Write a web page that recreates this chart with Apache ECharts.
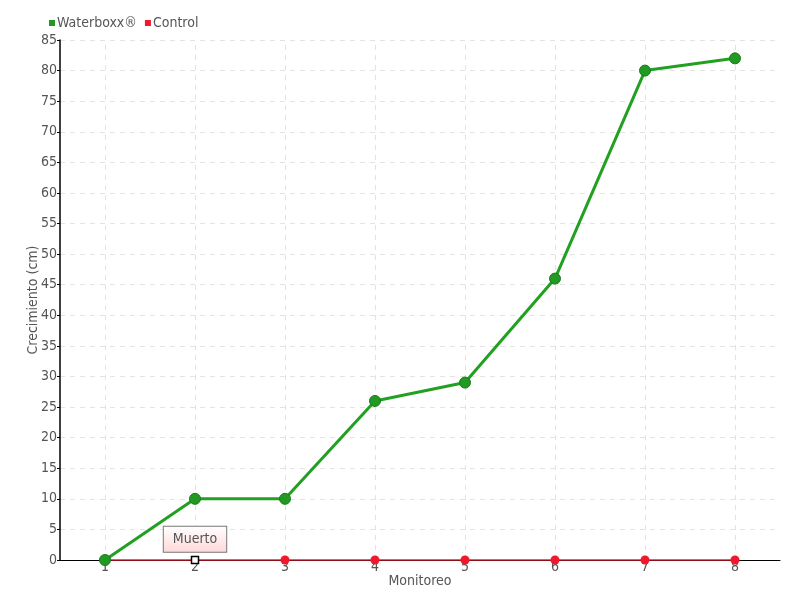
<!DOCTYPE html>
<html><head><meta charset="utf-8">
<script src="https://cdn.jsdelivr.net/npm/echarts@6/dist/echarts.min.js"></script>
<style>html,body{margin:0;padding:0;background:#fff}#c{width:800px;height:600px}</style>
</head><body><div id="c"></div>
<script>
var categories = ['1','2','3','4','5','6','7','8'];
var waterboxx = [0, 10, 10, 26, 29, 46, 80, 82];
var control = [0, 0, 0, 0, 0, 0, 0, 0];
var deadIndex = 1;
var deadLabel = 'Muerto';

var FONT = 'DejaVu Sans Condensed';
var chart = echarts.init(document.getElementById('c'));
var controlData = control.map(function (v, i) {
  if (i === deadIndex) {
    return {
      value: v,
      symbol: 'rect', symbolSize: 7,
      itemStyle: { color: '#fff', borderColor: '#000', borderWidth: 1.5 },
      label: {
        show: true, position: 'top', distance: 4, formatter: deadLabel,
        fontFamily: FONT, fontSize: 14, color: '#555',
        padding: [6, 9, 5, 9], borderColor: '#777', borderWidth: 1,
        backgroundColor: new echarts.graphic.LinearGradient(0, 0, 0, 1, [
          { offset: 0, color: '#ffffff' }, { offset: 1, color: '#ffd8d8' }])
      }
    };
  }
  return v;
});
var vLines = categories.map(function (c) { return { xAxis: c }; });
chart.setOption({
  animation: false,
  textStyle: { fontFamily: FONT },
  legend: {
    left: 44, top: 11, itemWidth: 6, itemHeight: 6, itemGap: 8,
    icon: 'rect', itemStyle: { borderWidth: 0 },
    textStyle: { fontFamily: FONT, fontSize: 14, color: '#555', padding: [0, 0, 0, -3] },
    data: ['Waterboxx®', 'Control']
  },
  grid: { left: 60, right: 20, top: 40, bottom: 40 },
  xAxis: {
    type: 'category', data: categories, boundaryGap: true,
    name: 'Monitoreo', nameLocation: 'middle', nameGap: 14, nameMoveOverlap: false,
    nameTextStyle: { fontFamily: FONT, fontSize: 14, color: '#555' },
    axisLine: { lineStyle: { color: '#000', width: 1 } },
    axisTick: { alignWithLabel: true, length: 5, lineStyle: { color: '#555' } },
    axisLabel: { fontFamily: FONT, fontSize: 14, color: '#555', margin: 0 },
    splitLine: { show: false }
  },
  yAxis: {
    type: 'value', min: 0, max: 85, interval: 5,
    name: 'Crecimiento (cm)', nameLocation: 'middle', nameGap: 20, nameMoveOverlap: false,
    nameTextStyle: { fontFamily: FONT, fontSize: 14, color: '#555' },
    axisLine: { show: true, lineStyle: { color: '#000', width: 1.5 } },
    axisTick: { show: true, length: 3, inside: false, lineStyle: { color: '#000' } },
    axisLabel: { fontFamily: FONT, fontSize: 14, color: '#555', margin: 3 },
    splitLine: { show: true, lineStyle: { color: '#e3e3e3', type: [5, 5] } }
  },
  series: [
    {
      name: 'Waterboxx®', type: 'line', data: waterboxx,
      symbol: 'circle', symbolSize: 11, z: 4,
      itemStyle: { color: '#229922', borderColor: '#1a7a1a', borderWidth: 1 },
      lineStyle: { color: '#22a022', width: 3 },
      markLine: {
        silent: true, symbol: 'none', label: { show: false },
        lineStyle: { color: '#e3e3e3', type: [5, 5], width: 1 },
        data: vLines, z: 1
      }
    },
    {
      name: 'Control', type: 'line', data: controlData,
      symbol: 'circle', symbolSize: 9, z: 3,
      itemStyle: { color: '#f0182a' },
      lineStyle: { color: '#ff1a2e', width: 1.5 }
    }
  ]
});
</script></body></html>
